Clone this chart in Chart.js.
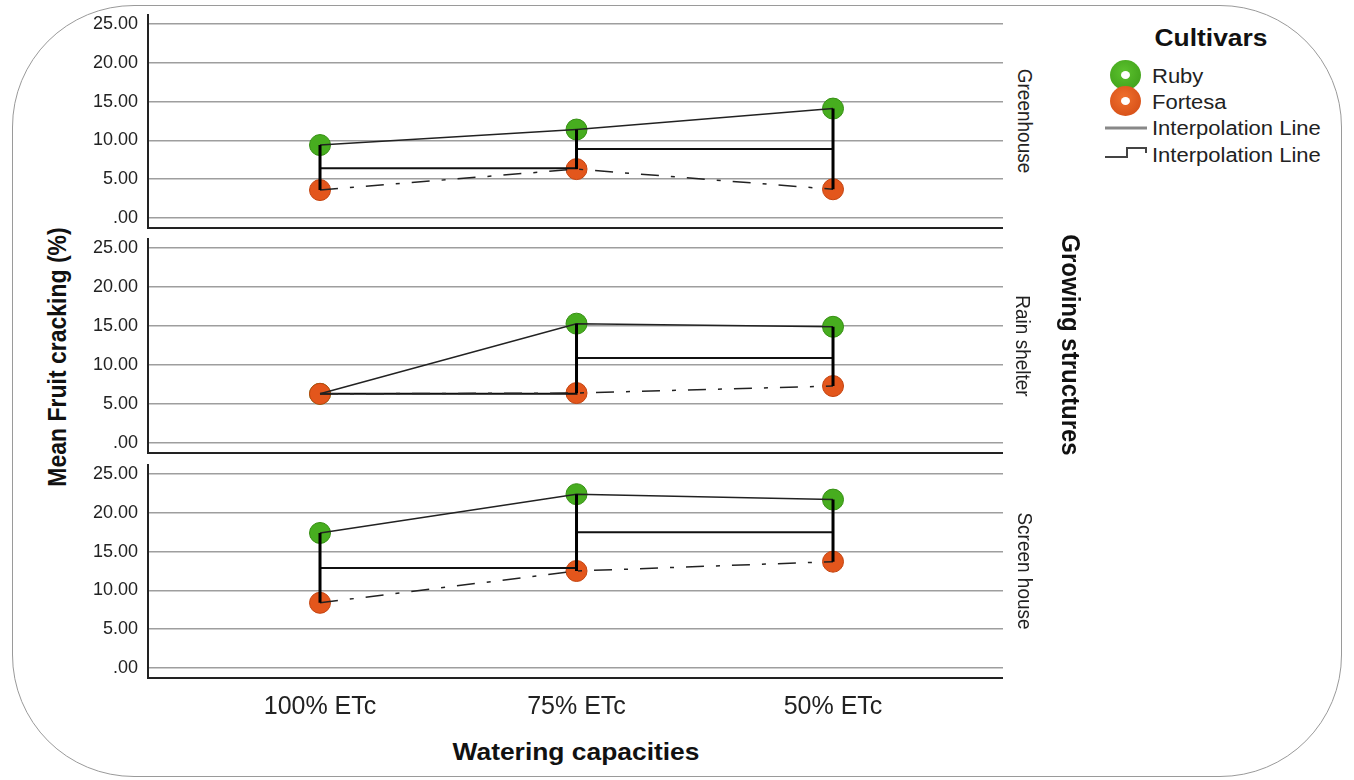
<!DOCTYPE html>
<html>
<head>
<meta charset="utf-8">
<script src="https://cdn.jsdelivr.net/npm/chart.js@4.4.1/dist/chart.umd.min.js"></script>
<style>
  body { margin: 0; background: #fff; font-family: 'Liberation Sans', Arial, sans-serif; }
  #page { position: relative; width: 1354px; height: 780px; overflow: hidden; }
  #frame { position: absolute; left: 12px; top: 5px; width: 1330px; height: 772px; box-sizing: border-box;
           border: 1.5px solid #9a9a9a; border-radius: 122px; }
  .panel { position: absolute; left: 80px; width: 923px; }
  .ctr { position: absolute; white-space: nowrap; color: #111; transform-origin: center; }
  .lft { position: absolute; white-space: nowrap; color: #222; transform-origin: left center;
         transform: translateY(-50%) scaleX(1.1); font-size: 20px; }
  .mk { position: absolute; width: 31px; height: 30px; border-radius: 50%; box-sizing: border-box; }
  .mk::after { content: ''; position: absolute; left: 11px; top: 11px; width: 9px; height: 8px;
               border-radius: 50%; background: #fff; }
</style>
</head>
<body>
<div id="page">
  <div id="frame"></div>

  <div class="panel" style="top:3px;height:228px"><canvas id="p1"></canvas></div>
  <div class="panel" style="top:227px;height:229px"><canvas id="p2"></canvas></div>
  <div class="panel" style="top:453px;height:270px"><canvas id="p3"></canvas></div>

  <!-- panel labels -->
  <div class="ctr" style="left:1025px;top:121px;font-size:19px;color:#222;transform:translate(-50%,-50%) scaleX(1.1) rotate(90deg)">Greenhouse</div>
  <div class="ctr" style="left:1023px;top:346px;font-size:19px;color:#222;transform:translate(-50%,-50%) scaleX(1.1) rotate(90deg)">Rain shelter</div>
  <div class="ctr" style="left:1025px;top:571px;font-size:19px;color:#222;transform:translate(-50%,-50%) scaleX(1.1) rotate(90deg)">Screen house</div>

  <!-- axis titles -->
  <div class="ctr" style="left:58px;top:357px;font-size:23px;font-weight:bold;transform:translate(-50%,-50%) scaleX(1.1) rotate(-90deg)">Mean Fruit cracking (%)</div>
  <div class="ctr" style="left:1071px;top:345px;font-size:24px;font-weight:bold;transform:translate(-50%,-50%) scaleX(1.1) rotate(90deg)">Growing structures</div>
  <div class="ctr" style="left:576px;top:752px;font-size:24px;font-weight:bold;transform:translate(-50%,-50%) scaleX(1.1)">Watering capacities</div>

  <!-- legend -->
  <div class="ctr" style="left:1211px;top:38px;font-size:24px;font-weight:bold;transform:translate(-50%,-50%) scaleX(1.1)">Cultivars</div>
  <div class="mk" style="left:1110px;top:60px;background:radial-gradient(circle at 45% 40%, #5cc22e, #3a9a16)"></div>
  <div class="mk" style="left:1110px;top:86px;background:radial-gradient(circle at 45% 40%, #f0702e, #d04812)"></div>
  <div class="lft" style="left:1152px;top:76px">Ruby</div>
  <div class="lft" style="left:1152px;top:102px">Fortesa</div>
  <svg style="position:absolute;left:1100px;top:118px" width="52" height="48">
    <line x1="5" y1="10" x2="47" y2="10" stroke="#888" stroke-width="3"/>
    <polyline points="5,39 27,39 27,30 46,30 46,35" fill="none" stroke="#444" stroke-width="2"/>
  </svg>
  <div class="lft" style="left:1152px;top:128px">Interpolation Line</div>
  <div class="lft" style="left:1152px;top:155px">Interpolation Line</div>
</div>

<script>
// Categories and values
const categories = ["100% ETc", "75% ETc", "50% ETc"];
const yTicks = [0, 5, 10, 15, 20, 25];
const yTickLabels = [".00", "5.00", "10.00", "15.00", "20.00", "25.00"];

const rubyGreenhouse = [9.4, 11.4, 14.1];
const fortesaGreenhouse = [3.6, 6.3, 3.7];
const stepGreenhouse = [6.4, 8.9, 8.9];

const rubyRainShelter = [6.3, 15.3, 14.9];
const fortesaRainShelter = [6.3, 6.4, 7.3];
const stepRainShelter = [6.3, 10.9, 11.1];

const rubyScreenHouse = [17.4, 22.4, 21.7];
const fortesaScreenHouse = [8.4, 12.5, 13.7];
const stepScreenHouse = [12.9, 17.5, 17.7];

Chart.defaults.font.family = "'Liberation Sans', Arial, sans-serif";

const toPoints = (arr) => arr.map((v, i) => ({ x: i, y: v }));

function dropLines(high, low) {
  const pts = [];
  high.forEach((v, i) => {
    pts.push({ x: i, y: low[i] }, { x: i, y: v }, { x: i, y: null });
  });
  return pts;
}

function makePanel(id, ruby, fortesa, step, showX) {
  new Chart(document.getElementById(id), {
    type: "line",
    data: {
      datasets: [
        { label: "Ruby", data: toPoints(ruby), showLine: false, order: 6,
          pointRadius: 10.5, pointBackgroundColor: "#47ad1f", pointBorderColor: "#358f12", pointBorderWidth: 1 },
        { label: "Fortesa", data: toPoints(fortesa), showLine: false, order: 5,
          pointRadius: 10.5, pointBackgroundColor: "#e3561c", pointBorderColor: "#c44410", pointBorderWidth: 1 },
        { label: "Ruby line", data: toPoints(ruby), order: 1, pointRadius: 0,
          borderColor: "#222", borderWidth: 1.5 },
        { label: "Fortesa line", data: toPoints(fortesa), order: 1, pointRadius: 0,
          borderColor: "#222", borderWidth: 1.5, borderDash: [18, 12, 4, 12] },
        { label: "Step", data: toPoints(step), order: 1, pointRadius: 0, stepped: "before",
          borderColor: "#111", borderWidth: 2 },
        { label: "Drop", data: dropLines(ruby, fortesa), order: 0, pointRadius: 0, spanGaps: false,
          borderColor: "#000", borderWidth: 3 },
      ],
    },
    options: {
      responsive: true,
      maintainAspectRatio: false,
      animation: false,
      layout: { autoPadding: false, padding: { top: 12, left: 0, right: 0, bottom: 0 } },
      plugins: { legend: { display: false }, tooltip: { enabled: false } },
      scales: {
        x: {
          type: "linear",
          min: -0.6706,
          max: 2.6627,
          afterBuildTicks: (s) => { s.ticks = categories.map((c, i) => ({ value: i })); },
          afterFit: (s) => { s.height = showX ? 45 : 3; s.paddingLeft = 0; s.paddingRight = 0; },
          ticks: { display: showX, callback: (v, i) => categories[i], color: "#222",
                   font: { size: 25 }, padding: 14, maxRotation: 0, autoSkip: false },
          grid: { display: false, drawTicks: false },
          border: { display: true, color: "#222", width: 2 },
        },
        y: {
          type: "linear",
          min: -1.29,
          max: 26.16,
          afterBuildTicks: (s) => { s.ticks = yTicks.map((v) => ({ value: v })); },
          afterFit: (s) => { s.width = 68; s.paddingTop = 0; s.paddingBottom = 0; },
          ticks: { callback: (v, i) => yTickLabels[i], color: "#222", font: { size: 18 }, padding: 10 },
          grid: { color: "#9e9e9e", lineWidth: 1.5, drawTicks: false },
          border: { display: true, color: "#222", width: 2 },
        },
      },
    },
  });
}

makePanel("p1", rubyGreenhouse, fortesaGreenhouse, stepGreenhouse, false);
makePanel("p2", rubyRainShelter, fortesaRainShelter, stepRainShelter, false);
makePanel("p3", rubyScreenHouse, fortesaScreenHouse, stepScreenHouse, true);
</script>
</body>
</html>
